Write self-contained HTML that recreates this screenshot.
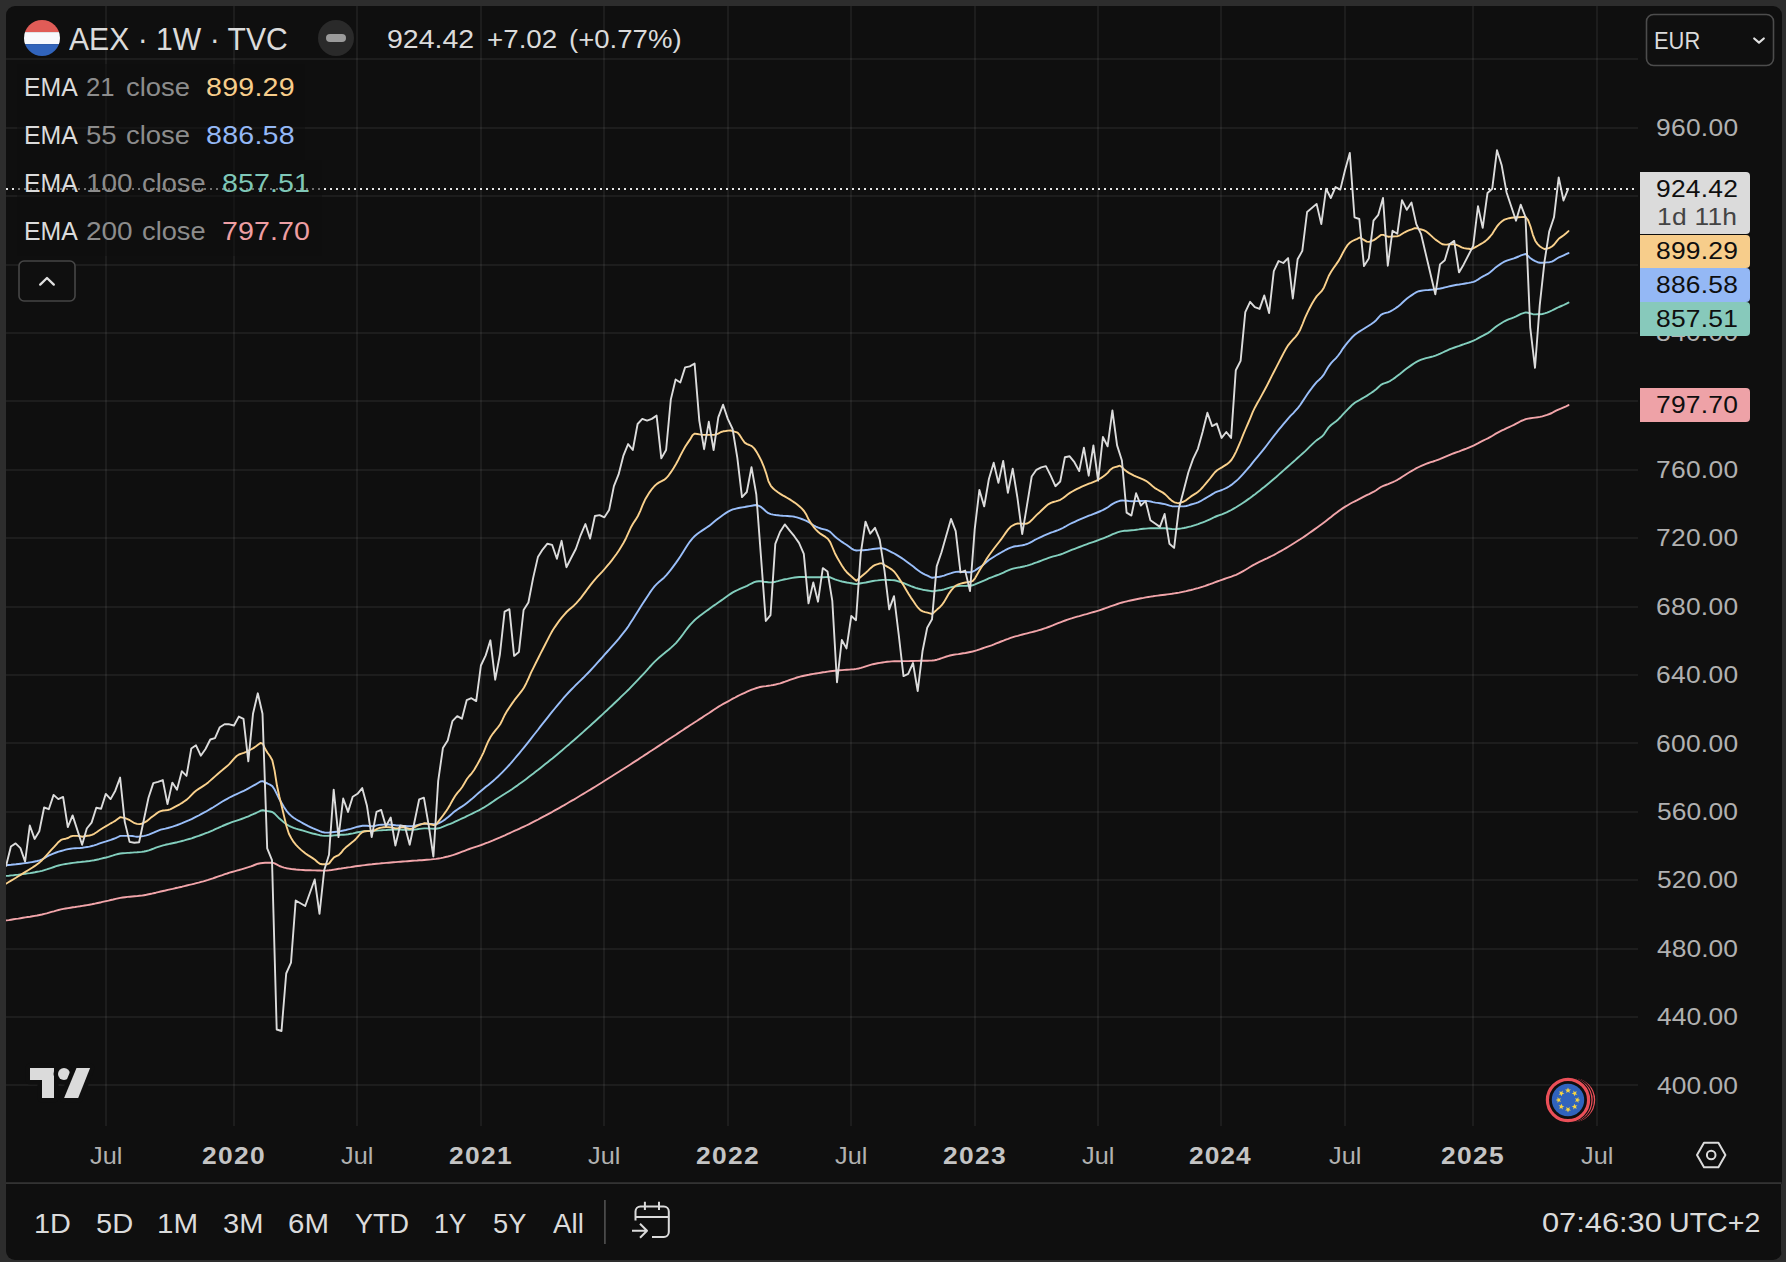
<!DOCTYPE html>
<html lang="en"><head><meta charset="utf-8"><title>AEX · 1W · TVC</title>
<style>
html,body{margin:0;padding:0;background:#2d2d2d;}
body{width:1786px;height:1262px;position:relative;overflow:hidden;font-family:"Liberation Sans", Arial, sans-serif;}
#panel{position:absolute;left:6px;top:6px;width:1776px;height:1254px;background:#0f0f0f;border-radius:9px;overflow:hidden;}
#wrap{position:absolute;left:-6px;top:-6px;width:1786px;height:1262px;}
.t{position:absolute;white-space:pre;line-height:1;display:block;transform-origin:0 0;}
.abs{position:absolute;}
svg{position:absolute;left:0;top:0;}
.box{position:absolute;left:1640px;width:110px;border-radius:0 4px 4px 0;}
</style></head><body>
<div id="panel"><div id="wrap">

<svg width="1786" height="1262" viewBox="0 0 1786 1262">
<g fill="rgba(255,255,255,0.058)"><rect x="105" y="6" width="2" height="1120"/><rect x="233" y="6" width="2" height="1120"/><rect x="356" y="6" width="2" height="1120"/><rect x="480" y="6" width="2" height="1120"/><rect x="603" y="6" width="2" height="1120"/><rect x="727" y="6" width="2" height="1120"/><rect x="850" y="6" width="2" height="1120"/><rect x="974" y="6" width="2" height="1120"/><rect x="1097" y="6" width="2" height="1120"/><rect x="1220" y="6" width="2" height="1120"/><rect x="1344" y="6" width="2" height="1120"/><rect x="1472" y="6" width="2" height="1120"/><rect x="1596" y="6" width="2" height="1120"/><rect x="6" y="58" width="1632" height="2"/><rect x="6" y="127" width="1632" height="2"/><rect x="6" y="195" width="1632" height="2"/><rect x="6" y="264" width="1632" height="2"/><rect x="6" y="332" width="1632" height="2"/><rect x="6" y="400" width="1632" height="2"/><rect x="6" y="469" width="1632" height="2"/><rect x="6" y="537" width="1632" height="2"/><rect x="6" y="606" width="1632" height="2"/><rect x="6" y="674" width="1632" height="2"/><rect x="6" y="742" width="1632" height="2"/><rect x="6" y="811" width="1632" height="2"/><rect x="6" y="879" width="1632" height="2"/><rect x="6" y="948" width="1632" height="2"/><rect x="6" y="1016" width="1632" height="2"/><rect x="6" y="1084" width="1632" height="2"/></g>
<clipPath id="cp"><rect x="6" y="6" width="1632" height="1120"/></clipPath>
<g clip-path="url(#cp)" fill="none" stroke-linejoin="round" stroke-linecap="round">
<path d="M6.4 920.4 L8.8 920.1 L11.1 919.7 L13.5 919.3 L15.9 918.9 L18.3 918.6 L20.6 918.2 L23.0 917.8 L25.4 917.4 L27.7 917.0 L30.1 916.7 L32.5 916.3 L34.9 915.9 L37.2 915.5 L39.6 915.0 L42.0 914.5 L44.4 913.9 L46.7 913.3 L49.1 912.6 L51.5 911.9 L53.9 911.3 L56.2 910.6 L58.6 910.0 L61.0 909.4 L63.4 908.9 L65.7 908.5 L68.1 908.1 L70.5 907.7 L72.9 907.3 L75.2 907.0 L77.6 906.6 L80.0 906.3 L82.4 905.9 L84.7 905.5 L87.1 905.1 L89.5 904.7 L91.8 904.3 L94.2 903.8 L96.6 903.2 L99.0 902.7 L101.3 902.2 L103.7 901.6 L106.1 901.1 L108.5 900.6 L110.8 900.0 L113.2 899.5 L115.6 898.9 L118.0 898.4 L120.3 897.9 L122.7 897.5 L125.1 897.2 L127.5 896.9 L129.8 896.7 L132.2 896.5 L134.6 896.3 L137.0 896.1 L139.3 895.8 L141.7 895.6 L144.1 895.2 L146.4 894.8 L148.8 894.3 L151.2 893.8 L153.6 893.2 L155.9 892.7 L158.3 892.1 L160.7 891.5 L163.1 891.0 L165.4 890.5 L167.8 889.9 L170.2 889.4 L172.6 888.9 L174.9 888.3 L177.3 887.8 L179.7 887.2 L182.1 886.7 L184.4 886.1 L186.8 885.5 L189.2 884.9 L191.6 884.4 L193.9 883.8 L196.3 883.2 L198.7 882.6 L201.1 881.9 L203.4 881.3 L205.8 880.6 L208.2 879.9 L210.5 879.1 L212.9 878.4 L215.3 877.5 L217.7 876.7 L220.0 875.9 L222.4 875.1 L224.8 874.2 L227.2 873.5 L229.5 872.7 L231.9 872.0 L234.3 871.3 L236.7 870.6 L239.0 870.0 L241.4 869.3 L243.8 868.6 L246.2 867.9 L248.5 867.2 L250.9 866.4 L253.3 865.5 L255.7 864.5 L258.0 863.7 L260.4 863.2 L262.8 863.0 L265.1 862.8 L267.5 862.8 L269.9 862.7 L272.3 862.7 L274.6 863.3 L277.0 864.6 L279.4 866.0 L281.8 866.9 L284.1 867.6 L286.5 868.2 L288.9 868.6 L291.3 869.0 L293.6 869.2 L296.0 869.5 L298.4 869.7 L300.8 869.9 L303.1 870.0 L305.5 870.2 L307.9 870.2 L310.3 870.3 L312.6 870.4 L315.0 870.4 L317.4 870.5 L319.8 870.5 L322.1 870.6 L324.5 870.6 L326.9 870.5 L329.2 870.3 L331.6 870.0 L334.0 869.6 L336.4 869.2 L338.7 868.8 L341.1 868.5 L343.5 868.1 L345.9 867.8 L348.2 867.4 L350.6 867.1 L353.0 866.7 L355.4 866.3 L357.7 866.0 L360.1 865.7 L362.5 865.4 L364.9 865.1 L367.2 864.8 L369.6 864.5 L372.0 864.3 L374.4 864.0 L376.7 863.8 L379.1 863.6 L381.5 863.3 L383.8 863.1 L386.2 862.9 L388.6 862.7 L391.0 862.5 L393.3 862.3 L395.7 862.1 L398.1 861.9 L400.5 861.7 L402.8 861.5 L405.2 861.4 L407.6 861.2 L410.0 861.0 L412.3 860.8 L414.7 860.6 L417.1 860.5 L419.5 860.3 L421.8 860.2 L424.2 860.0 L426.6 859.8 L429.0 859.6 L431.3 859.4 L433.7 859.1 L436.1 858.9 L438.5 858.5 L440.8 858.1 L443.2 857.6 L445.6 857.0 L447.9 856.5 L450.3 855.8 L452.7 855.1 L455.1 854.3 L457.4 853.5 L459.8 852.6 L462.2 851.7 L464.6 850.8 L466.9 849.9 L469.3 849.0 L471.7 848.2 L474.1 847.4 L476.4 846.6 L478.8 845.8 L481.2 845.0 L483.6 844.1 L485.9 843.2 L488.3 842.3 L490.7 841.3 L493.1 840.4 L495.4 839.4 L497.8 838.4 L500.2 837.4 L502.5 836.3 L504.9 835.3 L507.3 834.2 L509.7 833.1 L512.0 832.0 L514.4 830.9 L516.8 829.9 L519.2 828.8 L521.5 827.7 L523.9 826.6 L526.3 825.5 L528.7 824.4 L531.0 823.2 L533.4 821.9 L535.8 820.7 L538.2 819.5 L540.5 818.2 L542.9 816.9 L545.3 815.7 L547.7 814.4 L550.0 813.1 L552.4 811.8 L554.8 810.4 L557.2 809.1 L559.5 807.8 L561.9 806.4 L564.3 805.1 L566.6 803.7 L569.0 802.3 L571.4 800.9 L573.8 799.6 L576.1 798.2 L578.5 796.7 L580.9 795.3 L583.3 793.9 L585.6 792.5 L588.0 791.0 L590.4 789.6 L592.8 788.1 L595.1 786.7 L597.5 785.2 L599.9 783.7 L602.3 782.3 L604.6 780.8 L607.0 779.3 L609.4 777.8 L611.8 776.3 L614.1 774.8 L616.5 773.3 L618.9 771.8 L621.2 770.3 L623.6 768.8 L626.0 767.2 L628.4 765.7 L630.7 764.2 L633.1 762.6 L635.5 761.1 L637.9 759.6 L640.2 758.0 L642.6 756.5 L645.0 754.9 L647.4 753.4 L649.7 751.8 L652.1 750.3 L654.5 748.7 L656.9 747.1 L659.2 745.6 L661.6 744.0 L664.0 742.5 L666.4 740.9 L668.7 739.3 L671.1 737.8 L673.5 736.2 L675.9 734.7 L678.2 733.1 L680.6 731.5 L683.0 730.0 L685.3 728.4 L687.7 726.9 L690.1 725.3 L692.5 723.8 L694.8 722.2 L697.2 720.7 L699.6 719.1 L702.0 717.6 L704.3 716.0 L706.7 714.5 L709.1 713.0 L711.5 711.4 L713.8 709.8 L716.2 708.2 L718.6 706.6 L721.0 705.2 L723.3 703.9 L725.7 702.6 L728.1 701.3 L730.5 700.0 L732.8 698.7 L735.2 697.5 L737.6 696.2 L739.9 695.0 L742.3 693.9 L744.7 692.8 L747.1 691.7 L749.4 690.7 L751.8 689.7 L754.2 688.8 L756.6 688.0 L758.9 687.3 L761.3 686.8 L763.7 686.4 L766.1 686.1 L768.4 685.7 L770.8 685.4 L773.2 685.0 L775.6 684.5 L777.9 683.9 L780.3 683.3 L782.7 682.5 L785.1 681.7 L787.4 680.8 L789.8 679.9 L792.2 679.1 L794.6 678.3 L796.9 677.5 L799.3 676.8 L801.7 676.2 L804.0 675.7 L806.4 675.2 L808.8 674.8 L811.2 674.3 L813.5 673.9 L815.9 673.5 L818.3 673.1 L820.7 672.7 L823.0 672.3 L825.4 672.0 L827.8 671.6 L830.2 671.3 L832.5 671.0 L834.9 670.7 L837.3 670.4 L839.7 670.2 L842.0 670.1 L844.4 669.9 L846.8 669.7 L849.2 669.6 L851.5 669.4 L853.9 669.2 L856.3 668.9 L858.6 668.5 L861.0 667.9 L863.4 667.2 L865.8 666.4 L868.1 665.6 L870.5 664.9 L872.9 664.2 L875.3 663.7 L877.6 663.3 L880.0 662.9 L882.4 662.5 L884.8 662.1 L887.1 661.8 L889.5 661.6 L891.9 661.4 L894.3 661.3 L896.6 661.2 L899.0 661.2 L901.4 661.2 L903.8 661.1 L906.1 661.1 L908.5 661.1 L910.9 661.0 L913.3 661.0 L915.6 660.9 L918.0 660.9 L920.4 660.8 L922.7 660.8 L925.1 660.7 L927.5 660.7 L929.9 660.6 L932.2 660.5 L934.6 660.2 L937.0 659.7 L939.4 659.0 L941.7 658.2 L944.1 657.3 L946.5 656.5 L948.9 655.8 L951.2 655.3 L953.6 654.8 L956.0 654.4 L958.4 654.1 L960.7 653.7 L963.1 653.3 L965.5 653.0 L967.9 652.5 L970.2 652.0 L972.6 651.5 L975.0 650.8 L977.3 650.1 L979.7 649.3 L982.1 648.5 L984.5 647.7 L986.8 646.9 L989.2 646.1 L991.6 645.3 L994.0 644.4 L996.3 643.4 L998.7 642.5 L1001.1 641.5 L1003.5 640.6 L1005.8 639.6 L1008.2 638.8 L1010.6 637.9 L1013.0 637.1 L1015.3 636.4 L1017.7 635.8 L1020.1 635.1 L1022.5 634.5 L1024.8 633.9 L1027.2 633.3 L1029.6 632.7 L1032.0 632.1 L1034.3 631.5 L1036.7 630.9 L1039.1 630.2 L1041.4 629.5 L1043.8 628.7 L1046.2 627.9 L1048.6 627.0 L1050.9 626.1 L1053.3 625.2 L1055.7 624.2 L1058.1 623.2 L1060.4 622.3 L1062.8 621.4 L1065.2 620.5 L1067.6 619.7 L1069.9 618.9 L1072.3 618.2 L1074.7 617.4 L1077.1 616.7 L1079.4 616.1 L1081.8 615.4 L1084.2 614.7 L1086.6 614.1 L1088.9 613.4 L1091.3 612.7 L1093.7 612.0 L1096.0 611.3 L1098.4 610.6 L1100.8 609.8 L1103.2 609.0 L1105.5 608.2 L1107.9 607.3 L1110.3 606.4 L1112.7 605.6 L1115.0 604.8 L1117.4 604.0 L1119.8 603.2 L1122.2 602.5 L1124.5 601.9 L1126.9 601.3 L1129.3 600.7 L1131.7 600.2 L1134.0 599.7 L1136.4 599.2 L1138.8 598.7 L1141.2 598.3 L1143.5 597.9 L1145.9 597.4 L1148.3 597.0 L1150.7 596.6 L1153.0 596.3 L1155.4 595.9 L1157.8 595.6 L1160.1 595.3 L1162.5 595.0 L1164.9 594.7 L1167.3 594.4 L1169.6 594.1 L1172.0 593.8 L1174.4 593.4 L1176.8 593.0 L1179.1 592.6 L1181.5 592.1 L1183.9 591.6 L1186.3 591.1 L1188.6 590.5 L1191.0 590.0 L1193.4 589.4 L1195.8 588.7 L1198.1 588.1 L1200.5 587.4 L1202.9 586.7 L1205.3 585.9 L1207.6 585.0 L1210.0 584.2 L1212.4 583.3 L1214.7 582.4 L1217.1 581.5 L1219.5 580.7 L1221.9 579.8 L1224.2 579.0 L1226.6 578.2 L1229.0 577.4 L1231.4 576.6 L1233.7 575.7 L1236.1 574.8 L1238.5 573.7 L1240.9 572.4 L1243.2 571.1 L1245.6 569.7 L1248.0 568.3 L1250.4 566.8 L1252.7 565.4 L1255.1 564.2 L1257.5 562.9 L1259.9 561.7 L1262.2 560.6 L1264.6 559.4 L1267.0 558.3 L1269.4 557.1 L1271.7 556.0 L1274.1 554.8 L1276.5 553.5 L1278.8 552.2 L1281.2 550.9 L1283.6 549.5 L1286.0 548.1 L1288.3 546.7 L1290.7 545.3 L1293.1 543.8 L1295.5 542.3 L1297.8 540.8 L1300.2 539.3 L1302.6 537.7 L1305.0 536.1 L1307.3 534.5 L1309.7 532.8 L1312.1 531.1 L1314.5 529.4 L1316.8 527.7 L1319.2 526.0 L1321.6 524.3 L1324.0 522.5 L1326.3 520.7 L1328.7 518.8 L1331.1 517.0 L1333.4 515.1 L1335.8 513.2 L1338.2 511.4 L1340.6 509.7 L1342.9 508.1 L1345.3 506.6 L1347.7 505.2 L1350.1 503.8 L1352.4 502.5 L1354.8 501.3 L1357.2 500.1 L1359.6 498.8 L1361.9 497.6 L1364.3 496.4 L1366.7 495.2 L1369.1 494.1 L1371.4 492.9 L1373.8 491.7 L1376.2 490.2 L1378.6 488.5 L1380.9 487.0 L1383.3 485.9 L1385.7 485.0 L1388.1 484.1 L1390.4 483.1 L1392.8 482.1 L1395.2 481.0 L1397.5 479.8 L1399.9 478.4 L1402.3 476.8 L1404.7 475.2 L1407.0 473.7 L1409.4 472.3 L1411.8 470.9 L1414.2 469.5 L1416.5 468.2 L1418.9 467.0 L1421.3 465.9 L1423.7 464.9 L1426.0 463.9 L1428.4 463.0 L1430.8 462.2 L1433.2 461.5 L1435.5 460.7 L1437.9 459.8 L1440.3 458.9 L1442.7 457.9 L1445.0 456.9 L1447.4 455.9 L1449.8 454.9 L1452.1 453.9 L1454.5 453.0 L1456.9 452.1 L1459.3 451.3 L1461.6 450.4 L1464.0 449.5 L1466.4 448.6 L1468.8 447.6 L1471.1 446.6 L1473.5 445.6 L1475.9 444.4 L1478.3 443.2 L1480.6 441.9 L1483.0 440.7 L1485.4 439.5 L1487.8 438.4 L1490.1 437.1 L1492.5 435.7 L1494.9 434.2 L1497.3 432.9 L1499.6 431.6 L1502.0 430.4 L1504.4 429.3 L1506.8 428.1 L1509.1 427.1 L1511.5 426.0 L1513.9 424.9 L1516.2 423.7 L1518.6 422.4 L1521.0 421.0 L1523.4 420.1 L1525.7 419.2 L1528.1 418.6 L1530.5 418.2 L1532.9 417.9 L1535.2 417.6 L1537.6 417.3 L1540.0 416.9 L1542.4 416.3 L1544.7 415.6 L1547.1 414.9 L1549.5 414.0 L1551.9 413.0 L1554.2 411.7 L1556.6 410.4 L1559.0 409.3 L1561.4 408.4 L1563.7 407.4 L1566.1 406.3 L1568.5 405.1 L1568.5 405.1" stroke="#f2a5aa" stroke-width="1.9"/>
<path d="M6.4 875.9 L8.8 875.7 L11.1 875.4 L13.5 875.2 L15.9 874.9 L18.3 874.7 L20.6 874.4 L23.0 874.1 L25.4 873.8 L27.7 873.4 L30.1 873.1 L32.5 872.7 L34.9 872.3 L37.2 871.8 L39.6 871.4 L42.0 870.8 L44.4 870.1 L46.7 869.4 L49.1 868.6 L51.5 867.8 L53.9 867.0 L56.2 866.2 L58.6 865.5 L61.0 864.9 L63.4 864.4 L65.7 864.0 L68.1 863.6 L70.5 863.2 L72.9 862.9 L75.2 862.6 L77.6 862.3 L80.0 862.1 L82.4 861.8 L84.7 861.6 L87.1 861.3 L89.5 861.0 L91.8 860.6 L94.2 860.2 L96.6 859.7 L99.0 859.2 L101.3 858.6 L103.7 858.0 L106.1 857.5 L108.5 856.9 L110.8 856.1 L113.2 855.4 L115.6 854.6 L118.0 854.0 L120.3 853.5 L122.7 853.2 L125.1 853.1 L127.5 852.9 L129.8 852.8 L132.2 852.6 L134.6 852.4 L137.0 852.3 L139.3 852.1 L141.7 851.9 L144.1 851.5 L146.4 851.0 L148.8 850.3 L151.2 849.5 L153.6 848.6 L155.9 847.7 L158.3 846.9 L160.7 846.1 L163.1 845.4 L165.4 844.8 L167.8 844.3 L170.2 843.7 L172.6 843.2 L174.9 842.7 L177.3 842.2 L179.7 841.6 L182.1 841.0 L184.4 840.4 L186.8 839.7 L189.2 839.0 L191.6 838.3 L193.9 837.5 L196.3 836.7 L198.7 835.9 L201.1 835.0 L203.4 834.1 L205.8 833.2 L208.2 832.3 L210.5 831.3 L212.9 830.3 L215.3 829.2 L217.7 828.2 L220.0 827.1 L222.4 826.0 L224.8 825.0 L227.2 824.0 L229.5 823.1 L231.9 822.2 L234.3 821.4 L236.7 820.6 L239.0 819.8 L241.4 819.0 L243.8 818.1 L246.2 817.2 L248.5 816.3 L250.9 815.2 L253.3 814.2 L255.7 813.1 L258.0 812.0 L260.4 810.8 L262.8 810.3 L265.1 810.8 L267.5 811.1 L269.9 811.5 L272.3 812.0 L274.6 813.6 L277.0 816.1 L279.4 818.6 L281.8 820.6 L284.1 822.6 L286.5 824.4 L288.9 825.8 L291.3 826.9 L293.6 827.8 L296.0 828.6 L298.4 829.3 L300.8 830.0 L303.1 830.7 L305.5 831.4 L307.9 832.1 L310.3 832.8 L312.6 833.5 L315.0 834.0 L317.4 834.6 L319.8 835.2 L322.1 835.6 L324.5 835.9 L326.9 835.9 L329.2 835.8 L331.6 835.7 L334.0 835.4 L336.4 835.2 L338.7 835.0 L341.1 834.8 L343.5 834.7 L345.9 834.5 L348.2 834.2 L350.6 833.8 L353.0 833.4 L355.4 832.8 L357.7 832.3 L360.1 831.9 L362.5 831.5 L364.9 831.2 L367.2 831.0 L369.6 830.9 L372.0 830.8 L374.4 830.7 L376.7 830.6 L379.1 830.4 L381.5 830.3 L383.8 830.1 L386.2 830.0 L388.6 829.8 L391.0 829.7 L393.3 829.6 L395.7 829.6 L398.1 829.6 L400.5 829.6 L402.8 829.7 L405.2 829.8 L407.6 829.9 L410.0 829.9 L412.3 829.8 L414.7 829.6 L417.1 829.3 L419.5 828.9 L421.8 828.6 L424.2 828.4 L426.6 828.4 L429.0 828.5 L431.3 828.6 L433.7 828.7 L436.1 828.7 L438.5 828.3 L440.8 827.6 L443.2 826.7 L445.6 825.7 L447.9 824.7 L450.3 823.8 L452.7 822.8 L455.1 821.7 L457.4 820.7 L459.8 819.5 L462.2 818.4 L464.6 817.3 L466.9 816.1 L469.3 815.0 L471.7 813.9 L474.1 812.7 L476.4 811.5 L478.8 810.3 L481.2 809.0 L483.6 807.7 L485.9 806.2 L488.3 804.7 L490.7 803.1 L493.1 801.5 L495.4 799.9 L497.8 798.3 L500.2 796.7 L502.5 795.2 L504.9 793.7 L507.3 792.2 L509.7 790.7 L512.0 789.2 L514.4 787.5 L516.8 785.9 L519.2 784.1 L521.5 782.4 L523.9 780.7 L526.3 778.9 L528.7 777.1 L531.0 775.3 L533.4 773.5 L535.8 771.6 L538.2 769.8 L540.5 767.9 L542.9 766.0 L545.3 764.1 L547.7 762.2 L550.0 760.3 L552.4 758.4 L554.8 756.4 L557.2 754.4 L559.5 752.5 L561.9 750.5 L564.3 748.4 L566.6 746.4 L569.0 744.4 L571.4 742.3 L573.8 740.3 L576.1 738.2 L578.5 736.1 L580.9 734.0 L583.3 731.9 L585.6 729.8 L588.0 727.6 L590.4 725.5 L592.8 723.3 L595.1 721.2 L597.5 719.0 L599.9 716.8 L602.3 714.6 L604.6 712.4 L607.0 710.2 L609.4 707.9 L611.8 705.7 L614.1 703.5 L616.5 701.2 L618.9 699.0 L621.2 696.7 L623.6 694.4 L626.0 692.1 L628.4 689.8 L630.7 687.4 L633.1 684.9 L635.5 682.4 L637.9 679.9 L640.2 677.4 L642.6 674.8 L645.0 672.3 L647.4 669.7 L649.7 667.0 L652.1 664.4 L654.5 661.9 L656.9 659.6 L659.2 657.5 L661.6 655.5 L664.0 653.6 L666.4 651.6 L668.7 649.7 L671.1 647.6 L673.5 645.4 L675.9 643.1 L678.2 640.4 L680.6 637.4 L683.0 634.2 L685.3 631.0 L687.7 627.9 L690.1 624.9 L692.5 622.3 L694.8 620.0 L697.2 617.9 L699.6 616.0 L702.0 614.2 L704.3 612.5 L706.7 610.8 L709.1 609.1 L711.5 607.3 L713.8 605.6 L716.2 604.0 L718.6 602.3 L721.0 600.6 L723.3 599.0 L725.7 597.2 L728.1 595.5 L730.5 593.9 L732.8 592.4 L735.2 591.2 L737.6 590.0 L739.9 588.9 L742.3 587.9 L744.7 586.9 L747.1 585.8 L749.4 584.5 L751.8 583.3 L754.2 582.2 L756.6 581.5 L758.9 581.2 L761.3 581.3 L763.7 581.7 L766.1 582.0 L768.4 582.3 L770.8 582.4 L773.2 582.2 L775.6 581.7 L777.9 581.1 L780.3 580.4 L782.7 579.8 L785.1 579.3 L787.4 578.9 L789.8 578.4 L792.2 577.9 L794.6 577.5 L796.9 577.2 L799.3 577.0 L801.7 577.0 L804.0 577.0 L806.4 577.1 L808.8 577.2 L811.2 577.2 L813.5 577.3 L815.9 577.3 L818.3 577.3 L820.7 577.3 L823.0 577.2 L825.4 577.1 L827.8 577.0 L830.2 577.3 L832.5 578.3 L834.9 579.4 L837.3 580.2 L839.7 580.9 L842.0 581.5 L844.4 582.0 L846.8 582.5 L849.2 582.9 L851.5 583.3 L853.9 583.7 L856.3 584.1 L858.6 583.7 L861.0 583.3 L863.4 582.9 L865.8 582.5 L868.1 582.0 L870.5 581.5 L872.9 581.0 L875.3 580.6 L877.6 580.4 L880.0 580.1 L882.4 579.9 L884.8 579.9 L887.1 579.9 L889.5 580.0 L891.9 580.1 L894.3 580.3 L896.6 580.8 L899.0 581.5 L901.4 582.3 L903.8 583.2 L906.1 584.2 L908.5 585.2 L910.9 586.2 L913.3 587.0 L915.6 587.8 L918.0 588.5 L920.4 589.1 L922.7 589.7 L925.1 590.1 L927.5 590.5 L929.9 590.9 L932.2 591.3 L934.6 591.0 L937.0 590.6 L939.4 590.3 L941.7 590.0 L944.1 589.4 L946.5 588.6 L948.9 587.8 L951.2 587.2 L953.6 586.6 L956.0 586.2 L958.4 586.0 L960.7 585.9 L963.1 585.9 L965.5 585.9 L967.9 585.8 L970.2 585.7 L972.6 585.3 L975.0 584.4 L977.3 583.4 L979.7 582.4 L982.1 581.4 L984.5 580.4 L986.8 579.3 L989.2 578.2 L991.6 577.3 L994.0 576.4 L996.3 575.5 L998.7 574.6 L1001.1 573.6 L1003.5 572.6 L1005.8 571.4 L1008.2 570.4 L1010.6 569.4 L1013.0 568.7 L1015.3 568.1 L1017.7 567.6 L1020.1 567.2 L1022.5 566.7 L1024.8 566.2 L1027.2 565.6 L1029.6 564.9 L1032.0 564.1 L1034.3 563.2 L1036.7 562.4 L1039.1 561.5 L1041.4 560.6 L1043.8 559.7 L1046.2 558.8 L1048.6 557.9 L1050.9 557.1 L1053.3 556.4 L1055.7 555.8 L1058.1 555.2 L1060.4 554.5 L1062.8 553.6 L1065.2 552.6 L1067.6 551.6 L1069.9 550.7 L1072.3 549.7 L1074.7 548.8 L1077.1 547.9 L1079.4 547.0 L1081.8 546.1 L1084.2 545.2 L1086.6 544.3 L1088.9 543.4 L1091.3 542.6 L1093.7 541.8 L1096.0 541.0 L1098.4 540.1 L1100.8 539.2 L1103.2 538.3 L1105.5 537.4 L1107.9 536.4 L1110.3 535.3 L1112.7 534.2 L1115.0 533.3 L1117.4 532.3 L1119.8 531.6 L1122.2 531.1 L1124.5 530.8 L1126.9 530.7 L1129.3 530.5 L1131.7 530.3 L1134.0 530.1 L1136.4 529.7 L1138.8 529.4 L1141.2 529.0 L1143.5 528.7 L1145.9 528.6 L1148.3 528.4 L1150.7 528.3 L1153.0 528.3 L1155.4 528.2 L1157.8 528.2 L1160.1 528.2 L1162.5 528.2 L1164.9 528.3 L1167.3 528.5 L1169.6 528.7 L1172.0 529.0 L1174.4 529.1 L1176.8 529.0 L1179.1 528.7 L1181.5 528.4 L1183.9 528.0 L1186.3 527.5 L1188.6 526.9 L1191.0 526.3 L1193.4 525.6 L1195.8 524.9 L1198.1 524.1 L1200.5 523.2 L1202.9 522.3 L1205.3 521.4 L1207.6 520.4 L1210.0 519.3 L1212.4 518.2 L1214.7 517.0 L1217.1 516.0 L1219.5 515.2 L1221.9 514.4 L1224.2 513.4 L1226.6 512.4 L1229.0 511.2 L1231.4 510.0 L1233.7 508.6 L1236.1 507.2 L1238.5 505.7 L1240.9 504.2 L1243.2 502.7 L1245.6 501.1 L1248.0 499.4 L1250.4 497.7 L1252.7 495.9 L1255.1 494.2 L1257.5 492.3 L1259.9 490.5 L1262.2 488.6 L1264.6 486.7 L1267.0 484.7 L1269.4 482.7 L1271.7 480.7 L1274.1 478.7 L1276.5 476.7 L1278.8 474.6 L1281.2 472.5 L1283.6 470.4 L1286.0 468.3 L1288.3 466.2 L1290.7 464.1 L1293.1 462.0 L1295.5 459.9 L1297.8 457.7 L1300.2 455.6 L1302.6 453.5 L1305.0 451.4 L1307.3 449.1 L1309.7 446.7 L1312.1 444.4 L1314.5 442.1 L1316.8 440.1 L1319.2 438.5 L1321.6 436.8 L1324.0 434.3 L1326.3 430.8 L1328.7 427.4 L1331.1 425.0 L1333.4 423.2 L1335.8 421.4 L1338.2 419.4 L1340.6 417.0 L1342.9 414.3 L1345.3 411.8 L1347.7 409.4 L1350.1 407.0 L1352.4 404.7 L1354.8 402.8 L1357.2 401.3 L1359.6 400.0 L1361.9 398.7 L1364.3 397.3 L1366.7 395.9 L1369.1 394.3 L1371.4 392.8 L1373.8 391.1 L1376.2 389.2 L1378.6 387.0 L1380.9 384.9 L1383.3 383.6 L1385.7 382.8 L1388.1 382.0 L1390.4 380.8 L1392.8 379.3 L1395.2 377.6 L1397.5 375.8 L1399.9 374.0 L1402.3 372.1 L1404.7 370.1 L1407.0 368.3 L1409.4 366.6 L1411.8 364.9 L1414.2 363.3 L1416.5 361.9 L1418.9 360.7 L1421.3 359.7 L1423.7 358.9 L1426.0 358.2 L1428.4 357.6 L1430.8 357.0 L1433.2 356.4 L1435.5 355.6 L1437.9 354.7 L1440.3 353.7 L1442.7 352.5 L1445.0 351.4 L1447.4 350.3 L1449.8 349.2 L1452.1 348.3 L1454.5 347.5 L1456.9 346.7 L1459.3 345.9 L1461.6 345.0 L1464.0 344.2 L1466.4 343.3 L1468.8 342.5 L1471.1 341.6 L1473.5 340.6 L1475.9 339.5 L1478.3 338.2 L1480.6 336.9 L1483.0 335.7 L1485.4 334.4 L1487.8 333.1 L1490.1 331.5 L1492.5 329.5 L1494.9 327.6 L1497.3 325.7 L1499.6 324.2 L1502.0 322.7 L1504.4 321.3 L1506.8 320.2 L1509.1 319.2 L1511.5 318.3 L1513.9 317.4 L1516.2 316.4 L1518.6 315.1 L1521.0 313.8 L1523.4 313.1 L1525.7 312.4 L1528.1 312.8 L1530.5 313.5 L1532.9 314.2 L1535.2 314.4 L1537.6 314.3 L1540.0 314.2 L1542.4 314.0 L1544.7 313.4 L1547.1 312.6 L1549.5 311.6 L1551.9 310.5 L1554.2 309.3 L1556.6 308.1 L1559.0 307.0 L1561.4 306.0 L1563.7 305.0 L1566.1 303.8 L1568.5 302.6 L1568.5 302.6" stroke="#83cfbe" stroke-width="1.9"/>
<path d="M6.4 865.3 L8.8 865.0 L11.1 864.8 L13.5 864.5 L15.9 864.3 L18.3 864.0 L20.6 863.7 L23.0 863.4 L25.4 863.1 L27.7 862.8 L30.1 862.4 L32.5 862.0 L34.9 861.5 L37.2 861.0 L39.6 860.3 L42.0 859.4 L44.4 858.1 L46.7 856.7 L49.1 855.4 L51.5 854.4 L53.9 853.4 L56.2 852.5 L58.6 851.7 L61.0 851.0 L63.4 850.3 L65.7 849.7 L68.1 849.1 L70.5 848.7 L72.9 848.4 L75.2 848.2 L77.6 848.1 L80.0 848.0 L82.4 847.8 L84.7 847.4 L87.1 847.0 L89.5 846.6 L91.8 846.0 L94.2 845.4 L96.6 844.6 L99.0 843.7 L101.3 842.9 L103.7 842.1 L106.1 841.4 L108.5 840.6 L110.8 839.9 L113.2 839.0 L115.6 838.2 L118.0 837.0 L120.3 835.9 L122.7 835.9 L125.1 835.9 L127.5 835.9 L129.8 835.9 L132.2 836.0 L134.6 836.4 L137.0 836.7 L139.3 836.6 L141.7 836.3 L144.1 835.9 L146.4 835.4 L148.8 834.7 L151.2 833.7 L153.6 832.7 L155.9 831.6 L158.3 830.6 L160.7 829.7 L163.1 829.1 L165.4 828.6 L167.8 828.0 L170.2 827.3 L172.6 826.6 L174.9 825.8 L177.3 825.0 L179.7 824.1 L182.1 823.2 L184.4 822.2 L186.8 821.2 L189.2 820.2 L191.6 819.1 L193.9 817.9 L196.3 816.7 L198.7 815.5 L201.1 814.2 L203.4 812.9 L205.8 811.7 L208.2 810.3 L210.5 808.9 L212.9 807.5 L215.3 806.0 L217.7 804.5 L220.0 803.0 L222.4 801.5 L224.8 800.1 L227.2 798.8 L229.5 797.5 L231.9 796.3 L234.3 795.2 L236.7 794.1 L239.0 793.0 L241.4 791.9 L243.8 790.8 L246.2 789.6 L248.5 788.3 L250.9 787.0 L253.3 785.7 L255.7 784.4 L258.0 783.0 L260.4 781.5 L262.8 781.1 L265.1 782.5 L267.5 783.5 L269.9 784.6 L272.3 786.1 L274.6 789.5 L277.0 794.3 L279.4 799.3 L281.8 803.3 L284.1 807.2 L286.5 810.8 L288.9 813.7 L291.3 815.9 L293.6 817.7 L296.0 819.3 L298.4 820.7 L300.8 822.0 L303.1 823.3 L305.5 824.6 L307.9 825.9 L310.3 827.1 L312.6 828.2 L315.0 829.2 L317.4 830.2 L319.8 831.2 L322.1 832.0 L324.5 832.5 L326.9 832.6 L329.2 832.5 L331.6 832.3 L334.0 832.0 L336.4 831.7 L338.7 831.4 L341.1 831.0 L343.5 830.5 L345.9 830.0 L348.2 829.4 L350.6 828.8 L353.0 828.1 L355.4 827.4 L357.7 826.7 L360.1 826.2 L362.5 825.8 L364.9 825.7 L367.2 825.8 L369.6 826.1 L372.0 826.2 L374.4 826.0 L376.7 825.4 L379.1 824.9 L381.5 824.7 L383.8 824.6 L386.2 824.6 L388.6 824.5 L391.0 824.7 L393.3 825.0 L395.7 825.3 L398.1 825.5 L400.5 825.7 L402.8 825.9 L405.2 826.0 L407.6 826.2 L410.0 826.2 L412.3 826.1 L414.7 825.7 L417.1 825.1 L419.5 824.5 L421.8 824.0 L424.2 823.7 L426.6 823.7 L429.0 823.9 L431.3 824.0 L433.7 824.2 L436.1 824.1 L438.5 823.4 L440.8 822.2 L443.2 820.7 L445.6 819.1 L447.9 817.3 L450.3 815.2 L452.7 813.1 L455.1 811.1 L457.4 809.5 L459.8 807.9 L462.2 806.4 L464.6 804.8 L466.9 803.0 L469.3 801.1 L471.7 799.1 L474.1 797.0 L476.4 794.9 L478.8 792.8 L481.2 790.8 L483.6 788.8 L485.9 786.8 L488.3 784.9 L490.7 782.9 L493.1 780.9 L495.4 778.9 L497.8 776.7 L500.2 774.4 L502.5 772.1 L504.9 769.6 L507.3 767.1 L509.7 764.5 L512.0 761.8 L514.4 759.0 L516.8 756.2 L519.2 753.4 L521.5 750.5 L523.9 747.6 L526.3 744.6 L528.7 741.6 L531.0 738.6 L533.4 735.5 L535.8 732.5 L538.2 729.5 L540.5 726.4 L542.9 723.4 L545.3 720.3 L547.7 717.3 L550.0 714.3 L552.4 711.4 L554.8 708.5 L557.2 705.6 L559.5 702.8 L561.9 700.0 L564.3 697.2 L566.6 694.6 L569.0 692.0 L571.4 689.5 L573.8 687.1 L576.1 684.7 L578.5 682.4 L580.9 680.1 L583.3 677.8 L585.6 675.4 L588.0 673.0 L590.4 670.5 L592.8 667.9 L595.1 665.3 L597.5 662.7 L599.9 660.0 L602.3 657.4 L604.6 654.7 L607.0 652.0 L609.4 649.4 L611.8 646.7 L614.1 644.1 L616.5 641.4 L618.9 638.6 L621.2 635.7 L623.6 632.7 L626.0 629.6 L628.4 626.2 L630.7 622.6 L633.1 618.9 L635.5 615.1 L637.9 611.2 L640.2 607.4 L642.6 603.7 L645.0 600.1 L647.4 596.5 L649.7 592.9 L652.1 589.5 L654.5 586.4 L656.9 583.9 L659.2 581.8 L661.6 579.8 L664.0 577.7 L666.4 575.2 L668.7 572.4 L671.1 569.3 L673.5 566.1 L675.9 562.9 L678.2 559.6 L680.6 556.0 L683.0 552.2 L685.3 548.4 L687.7 544.7 L690.1 541.3 L692.5 538.3 L694.8 536.0 L697.2 534.0 L699.6 532.2 L702.0 530.6 L704.3 529.1 L706.7 527.5 L709.1 525.9 L711.5 524.0 L713.8 522.1 L716.2 520.1 L718.6 518.2 L721.0 516.4 L723.3 514.7 L725.7 513.1 L728.1 511.6 L730.5 510.3 L732.8 509.4 L735.2 508.8 L737.6 508.2 L739.9 507.8 L742.3 507.4 L744.7 507.0 L747.1 506.5 L749.4 506.1 L751.8 505.7 L754.2 505.3 L756.6 505.0 L758.9 505.9 L761.3 507.2 L763.7 509.3 L766.1 511.5 L768.4 513.2 L770.8 514.1 L773.2 514.6 L775.6 515.0 L777.9 515.3 L780.3 515.6 L782.7 515.8 L785.1 515.9 L787.4 516.0 L789.8 516.2 L792.2 516.4 L794.6 516.8 L796.9 517.4 L799.3 518.2 L801.7 519.0 L804.0 519.9 L806.4 520.9 L808.8 522.3 L811.2 523.8 L813.5 525.3 L815.9 526.6 L818.3 527.7 L820.7 528.5 L823.0 529.1 L825.4 529.7 L827.8 530.5 L830.2 531.9 L832.5 534.1 L834.9 536.5 L837.3 538.5 L839.7 540.2 L842.0 541.9 L844.4 543.5 L846.8 545.0 L849.2 546.8 L851.5 548.6 L853.9 549.9 L856.3 550.5 L858.6 550.4 L861.0 550.3 L863.4 550.2 L865.8 550.0 L868.1 549.8 L870.5 549.4 L872.9 549.0 L875.3 548.7 L877.6 548.5 L880.0 548.3 L882.4 548.3 L884.8 548.9 L887.1 549.9 L889.5 551.1 L891.9 552.3 L894.3 553.5 L896.6 554.9 L899.0 556.4 L901.4 557.9 L903.8 559.5 L906.1 561.2 L908.5 563.0 L910.9 564.8 L913.3 566.5 L915.6 568.4 L918.0 570.3 L920.4 572.0 L922.7 573.4 L925.1 574.6 L927.5 575.6 L929.9 576.8 L932.2 577.8 L934.6 577.4 L937.0 577.0 L939.4 576.7 L941.7 576.2 L944.1 575.6 L946.5 574.7 L948.9 573.9 L951.2 573.2 L953.6 572.4 L956.0 571.9 L958.4 571.8 L960.7 571.9 L963.1 572.0 L965.5 572.1 L967.9 572.2 L970.2 572.3 L972.6 571.7 L975.0 570.5 L977.3 568.9 L979.7 567.3 L982.1 565.7 L984.5 563.7 L986.8 561.7 L989.2 559.8 L991.6 558.2 L994.0 556.7 L996.3 555.3 L998.7 553.9 L1001.1 552.5 L1003.5 551.2 L1005.8 549.8 L1008.2 548.6 L1010.6 547.6 L1013.0 546.8 L1015.3 546.3 L1017.7 546.0 L1020.1 545.6 L1022.5 545.2 L1024.8 544.7 L1027.2 544.0 L1029.6 542.9 L1032.0 541.6 L1034.3 540.2 L1036.7 539.0 L1039.1 537.9 L1041.4 536.8 L1043.8 535.7 L1046.2 534.7 L1048.6 533.7 L1050.9 532.7 L1053.3 531.9 L1055.7 531.0 L1058.1 530.2 L1060.4 529.2 L1062.8 528.0 L1065.2 526.7 L1067.6 525.3 L1069.9 524.0 L1072.3 522.9 L1074.7 521.8 L1077.1 520.7 L1079.4 519.7 L1081.8 518.6 L1084.2 517.6 L1086.6 516.6 L1088.9 515.6 L1091.3 514.8 L1093.7 513.9 L1096.0 513.0 L1098.4 512.0 L1100.8 511.0 L1103.2 509.9 L1105.5 508.6 L1107.9 507.2 L1110.3 505.4 L1112.7 503.9 L1115.0 502.7 L1117.4 501.6 L1119.8 500.8 L1122.2 500.5 L1124.5 500.6 L1126.9 500.8 L1129.3 501.1 L1131.7 501.2 L1134.0 501.2 L1136.4 501.1 L1138.8 501.0 L1141.2 501.0 L1143.5 500.9 L1145.9 500.9 L1148.3 501.1 L1150.7 501.5 L1153.0 502.1 L1155.4 502.6 L1157.8 502.9 L1160.1 503.3 L1162.5 503.7 L1164.9 504.1 L1167.3 504.8 L1169.6 505.6 L1172.0 506.2 L1174.4 506.4 L1176.8 506.4 L1179.1 506.4 L1181.5 506.4 L1183.9 506.4 L1186.3 506.0 L1188.6 505.3 L1191.0 504.5 L1193.4 503.8 L1195.8 503.1 L1198.1 502.3 L1200.5 501.2 L1202.9 499.8 L1205.3 498.4 L1207.6 497.0 L1210.0 495.6 L1212.4 494.1 L1214.7 492.7 L1217.1 491.6 L1219.5 490.8 L1221.9 490.0 L1224.2 489.0 L1226.6 487.9 L1229.0 486.5 L1231.4 484.9 L1233.7 483.1 L1236.1 481.1 L1238.5 478.9 L1240.9 476.4 L1243.2 473.9 L1245.6 471.2 L1248.0 468.4 L1250.4 465.6 L1252.7 462.7 L1255.1 459.7 L1257.5 456.8 L1259.9 453.9 L1262.2 451.1 L1264.6 448.1 L1267.0 445.0 L1269.4 441.8 L1271.7 438.7 L1274.1 435.6 L1276.5 432.7 L1278.8 429.7 L1281.2 426.8 L1283.6 423.9 L1286.0 421.1 L1288.3 418.3 L1290.7 415.7 L1293.1 413.3 L1295.5 410.7 L1297.8 408.1 L1300.2 405.0 L1302.6 401.4 L1305.0 397.7 L1307.3 394.3 L1309.7 390.9 L1312.1 387.7 L1314.5 384.7 L1316.8 381.9 L1319.2 379.7 L1321.6 377.4 L1324.0 374.4 L1326.3 370.3 L1328.7 366.3 L1331.1 363.2 L1333.4 360.7 L1335.8 358.3 L1338.2 355.5 L1340.6 352.2 L1342.9 348.6 L1345.3 345.4 L1347.7 342.4 L1350.1 339.6 L1352.4 337.0 L1354.8 334.8 L1357.2 333.0 L1359.6 331.4 L1361.9 330.0 L1364.3 328.5 L1366.7 327.0 L1369.1 325.5 L1371.4 324.0 L1373.8 322.3 L1376.2 320.2 L1378.6 317.4 L1380.9 314.9 L1383.3 313.6 L1385.7 312.9 L1388.1 312.3 L1390.4 311.3 L1392.8 310.0 L1395.2 308.5 L1397.5 306.9 L1399.9 305.1 L1402.3 302.8 L1404.7 300.5 L1407.0 298.6 L1409.4 296.8 L1411.8 295.1 L1414.2 293.5 L1416.5 292.2 L1418.9 291.2 L1421.3 290.7 L1423.7 290.4 L1426.0 290.1 L1428.4 290.0 L1430.8 289.8 L1433.2 289.6 L1435.5 289.3 L1437.9 288.9 L1440.3 288.5 L1442.7 288.0 L1445.0 287.4 L1447.4 286.8 L1449.8 286.2 L1452.1 285.7 L1454.5 285.2 L1456.9 284.8 L1459.3 284.5 L1461.6 284.1 L1464.0 283.7 L1466.4 283.3 L1468.8 282.9 L1471.1 282.4 L1473.5 281.8 L1475.9 280.8 L1478.3 279.4 L1480.6 277.8 L1483.0 276.4 L1485.4 275.2 L1487.8 273.9 L1490.1 272.2 L1492.5 270.2 L1494.9 268.1 L1497.3 266.2 L1499.6 264.6 L1502.0 263.0 L1504.4 261.7 L1506.8 260.6 L1509.1 259.8 L1511.5 259.1 L1513.9 258.4 L1516.2 257.5 L1518.6 256.5 L1521.0 255.4 L1523.4 254.7 L1525.7 254.0 L1528.1 255.9 L1530.5 258.3 L1532.9 259.9 L1535.2 261.2 L1537.6 262.2 L1540.0 262.7 L1542.4 262.7 L1544.7 262.6 L1547.1 262.4 L1549.5 262.2 L1551.9 261.6 L1554.2 260.4 L1556.6 258.8 L1559.0 257.3 L1561.4 256.3 L1563.7 255.3 L1566.1 254.2 L1568.5 253.1 L1568.5 253.1" stroke="#9abffa" stroke-width="1.9"/>
<path d="M6.4 883.5 L8.8 882.0 L11.1 880.6 L13.5 879.2 L15.9 877.8 L18.3 876.3 L20.6 874.9 L23.0 873.4 L25.4 871.9 L27.7 870.5 L30.1 869.0 L32.5 867.5 L34.9 865.9 L37.2 864.2 L39.6 862.4 L42.0 860.2 L44.4 857.7 L46.7 855.0 L49.1 852.3 L51.5 849.7 L53.9 847.2 L56.2 844.6 L58.6 841.9 L61.0 839.9 L63.4 839.1 L65.7 838.7 L68.1 838.0 L70.5 836.5 L72.9 835.9 L75.2 835.9 L77.6 835.9 L80.0 836.3 L82.4 836.7 L84.7 836.2 L87.1 835.8 L89.5 835.5 L91.8 834.9 L94.2 833.8 L96.6 832.3 L99.0 830.5 L101.3 829.0 L103.7 827.5 L106.1 826.1 L108.5 824.7 L110.8 823.3 L113.2 822.0 L115.6 820.6 L118.0 818.7 L120.3 817.1 L122.7 817.6 L125.1 818.1 L127.5 819.1 L129.8 820.2 L132.2 821.7 L134.6 823.2 L137.0 823.9 L139.3 824.1 L141.7 823.7 L144.1 822.7 L146.4 821.4 L148.8 819.5 L151.2 817.4 L153.6 815.7 L155.9 813.9 L158.3 812.2 L160.7 811.1 L163.1 810.5 L165.4 810.3 L167.8 810.0 L170.2 809.3 L172.6 808.2 L174.9 806.9 L177.3 805.6 L179.7 804.3 L182.1 802.9 L184.4 801.3 L186.8 799.6 L189.2 797.4 L191.6 794.9 L193.9 792.5 L196.3 790.5 L198.7 788.9 L201.1 787.4 L203.4 785.9 L205.8 784.3 L208.2 782.4 L210.5 780.4 L212.9 778.2 L215.3 776.1 L217.7 774.0 L220.0 772.0 L222.4 770.1 L224.8 768.1 L227.2 766.1 L229.5 763.9 L231.9 761.2 L234.3 758.4 L236.7 756.0 L239.0 754.5 L241.4 753.6 L243.8 752.8 L246.2 751.8 L248.5 750.7 L250.9 749.5 L253.3 748.1 L255.7 746.5 L258.0 744.8 L260.4 743.0 L262.8 743.7 L265.1 748.8 L267.5 752.8 L269.9 756.0 L272.3 760.2 L274.6 770.6 L277.0 785.8 L279.4 796.8 L281.8 806.5 L284.1 816.4 L286.5 826.2 L288.9 833.8 L291.3 838.3 L293.6 841.9 L296.0 844.9 L298.4 847.4 L300.8 849.6 L303.1 851.6 L305.5 853.5 L307.9 855.1 L310.3 856.6 L312.6 858.1 L315.0 859.8 L317.4 862.0 L319.8 863.8 L322.1 864.3 L324.5 864.3 L326.9 864.3 L329.2 863.3 L331.6 860.2 L334.0 857.4 L336.4 856.2 L338.7 855.1 L341.1 852.8 L343.5 849.7 L345.9 847.3 L348.2 845.4 L350.6 843.5 L353.0 841.6 L355.4 839.5 L357.7 836.8 L360.1 834.0 L362.5 832.0 L364.9 831.2 L367.2 831.1 L369.6 831.1 L372.0 831.0 L374.4 830.5 L376.7 829.1 L379.1 828.0 L381.5 827.6 L383.8 827.3 L386.2 827.1 L388.6 827.1 L391.0 827.4 L393.3 827.9 L395.7 828.4 L398.1 828.1 L400.5 827.6 L402.8 827.1 L405.2 827.7 L407.6 828.4 L410.0 829.2 L412.3 828.4 L414.7 827.1 L417.1 825.8 L419.5 824.9 L421.8 824.2 L424.2 823.3 L426.6 823.5 L429.0 824.0 L431.3 824.5 L433.7 825.0 L436.1 824.6 L438.5 821.4 L440.8 818.4 L443.2 815.2 L445.6 811.9 L447.9 808.4 L450.3 804.4 L452.7 800.0 L455.1 796.0 L457.4 792.9 L459.8 790.2 L462.2 787.0 L464.6 783.0 L466.9 779.0 L469.3 776.0 L471.7 773.3 L474.1 770.0 L476.4 766.1 L478.8 761.8 L481.2 757.2 L483.6 752.3 L485.9 746.7 L488.3 741.2 L490.7 736.7 L493.1 733.3 L495.4 730.4 L497.8 727.5 L500.2 724.2 L502.5 719.7 L504.9 714.7 L507.3 710.6 L509.7 707.0 L512.0 703.6 L514.4 700.2 L516.8 697.1 L519.2 694.2 L521.5 691.2 L523.9 687.7 L526.3 683.2 L528.7 678.0 L531.0 672.7 L533.4 667.8 L535.8 663.0 L538.2 658.3 L540.5 653.6 L542.9 649.0 L545.3 644.3 L547.7 639.6 L550.0 635.1 L552.4 630.8 L554.8 627.1 L557.2 623.6 L559.5 620.4 L561.9 617.4 L564.3 614.6 L566.6 612.0 L569.0 609.8 L571.4 607.7 L573.8 605.7 L576.1 603.4 L578.5 600.7 L580.9 597.8 L583.3 594.7 L585.6 591.6 L588.0 588.3 L590.4 585.2 L592.8 582.1 L595.1 579.3 L597.5 576.7 L599.9 574.2 L602.3 571.7 L604.6 569.0 L607.0 566.2 L609.4 563.4 L611.8 560.4 L614.1 557.3 L616.5 554.0 L618.9 550.5 L621.2 546.8 L623.6 542.8 L626.0 538.2 L628.4 532.9 L630.7 527.8 L633.1 523.5 L635.5 519.9 L637.9 516.0 L640.2 511.1 L642.6 505.2 L645.0 499.8 L647.4 495.8 L649.7 492.1 L652.1 488.8 L654.5 486.0 L656.9 483.9 L659.2 482.4 L661.6 481.2 L664.0 479.9 L666.4 478.0 L668.7 475.3 L671.1 471.9 L673.5 468.2 L675.9 464.3 L678.2 460.0 L680.6 455.2 L683.0 450.6 L685.3 446.5 L687.7 442.9 L690.1 439.4 L692.5 435.3 L694.8 433.6 L697.2 434.0 L699.6 434.4 L702.0 434.7 L704.3 434.9 L706.7 434.9 L709.1 434.9 L711.5 434.9 L713.8 434.9 L716.2 434.5 L718.6 433.3 L721.0 432.0 L723.3 431.3 L725.7 431.0 L728.1 430.6 L730.5 430.5 L732.8 431.2 L735.2 431.8 L737.6 432.6 L739.9 435.4 L742.3 439.3 L744.7 442.6 L747.1 444.1 L749.4 445.0 L751.8 446.1 L754.2 448.4 L756.6 451.9 L758.9 456.0 L761.3 460.6 L763.7 466.3 L766.1 473.1 L768.4 481.1 L770.8 485.8 L773.2 488.5 L775.6 490.6 L777.9 492.3 L780.3 493.9 L782.7 495.4 L785.1 496.7 L787.4 498.0 L789.8 499.4 L792.2 501.0 L794.6 502.6 L796.9 504.3 L799.3 506.2 L801.7 508.4 L804.0 511.0 L806.4 514.8 L808.8 519.8 L811.2 523.6 L813.5 526.8 L815.9 529.6 L818.3 532.0 L820.7 533.9 L823.0 535.4 L825.4 536.9 L827.8 538.8 L830.2 542.1 L832.5 547.5 L834.9 553.2 L837.3 557.7 L839.7 561.9 L842.0 565.8 L844.4 569.3 L846.8 572.2 L849.2 574.5 L851.5 576.5 L853.9 578.7 L856.3 580.7 L858.6 578.7 L861.0 576.7 L863.4 574.7 L865.8 572.7 L868.1 570.6 L870.5 568.2 L872.9 566.2 L875.3 564.9 L877.6 564.2 L880.0 563.4 L882.4 563.4 L884.8 565.2 L887.1 566.6 L889.5 568.0 L891.9 569.6 L894.3 571.7 L896.6 574.8 L899.0 578.4 L901.4 582.1 L903.8 585.8 L906.1 589.8 L908.5 593.8 L910.9 597.6 L913.3 601.0 L915.6 604.5 L918.0 607.7 L920.4 610.1 L922.7 611.4 L925.1 612.1 L927.5 612.7 L929.9 613.3 L932.2 614.0 L934.6 611.8 L937.0 609.6 L939.4 607.6 L941.7 605.2 L944.1 601.9 L946.5 597.7 L948.9 593.6 L951.2 590.4 L953.6 587.6 L956.0 585.5 L958.4 584.4 L960.7 583.6 L963.1 583.0 L965.5 582.5 L967.9 582.1 L970.2 581.8 L972.6 581.1 L975.0 578.3 L977.3 574.2 L979.7 570.0 L982.1 566.3 L984.5 562.4 L986.8 558.6 L989.2 555.0 L991.6 551.7 L994.0 548.5 L996.3 545.5 L998.7 542.5 L1001.1 539.4 L1003.5 536.0 L1005.8 532.6 L1008.2 529.4 L1010.6 526.8 L1013.0 525.3 L1015.3 524.1 L1017.7 523.5 L1020.1 523.6 L1022.5 523.7 L1024.8 523.9 L1027.2 523.5 L1029.6 522.1 L1032.0 519.8 L1034.3 517.3 L1036.7 514.9 L1039.1 512.8 L1041.4 510.5 L1043.8 508.2 L1046.2 506.0 L1048.6 504.1 L1050.9 502.8 L1053.3 502.0 L1055.7 501.4 L1058.1 500.7 L1060.4 499.8 L1062.8 498.3 L1065.2 496.4 L1067.6 494.5 L1069.9 492.9 L1072.3 491.5 L1074.7 490.2 L1077.1 488.9 L1079.4 487.8 L1081.8 486.7 L1084.2 485.7 L1086.6 484.7 L1088.9 483.7 L1091.3 482.8 L1093.7 481.8 L1096.0 480.8 L1098.4 479.5 L1100.8 478.1 L1103.2 476.5 L1105.5 474.7 L1107.9 472.6 L1110.3 469.7 L1112.7 467.9 L1115.0 467.1 L1117.4 466.5 L1119.8 465.7 L1122.2 467.3 L1124.5 469.8 L1126.9 471.6 L1129.3 473.1 L1131.7 474.4 L1134.0 475.6 L1136.4 476.7 L1138.8 477.7 L1141.2 478.7 L1143.5 479.6 L1145.9 480.8 L1148.3 482.5 L1150.7 484.5 L1153.0 486.6 L1155.4 488.4 L1157.8 489.8 L1160.1 491.1 L1162.5 492.4 L1164.9 494.1 L1167.3 496.4 L1169.6 498.8 L1172.0 500.9 L1174.4 502.3 L1176.8 502.9 L1179.1 503.2 L1181.5 502.4 L1183.9 501.5 L1186.3 500.1 L1188.6 498.3 L1191.0 496.4 L1193.4 494.9 L1195.8 493.4 L1198.1 491.7 L1200.5 489.6 L1202.9 487.0 L1205.3 484.2 L1207.6 481.3 L1210.0 478.5 L1212.4 475.4 L1214.7 472.5 L1217.1 470.3 L1219.5 468.8 L1221.9 467.4 L1224.2 465.9 L1226.6 464.4 L1229.0 462.5 L1231.4 460.0 L1233.7 456.3 L1236.1 451.6 L1238.5 446.2 L1240.9 440.5 L1243.2 434.6 L1245.6 429.0 L1248.0 423.5 L1250.4 417.8 L1252.7 412.2 L1255.1 407.2 L1257.5 402.8 L1259.9 398.6 L1262.2 394.4 L1264.6 390.0 L1267.0 385.5 L1269.4 380.8 L1271.7 376.1 L1274.1 371.5 L1276.5 366.9 L1278.8 362.4 L1281.2 357.7 L1283.6 353.1 L1286.0 348.8 L1288.3 345.1 L1290.7 342.1 L1293.1 339.4 L1295.5 336.8 L1297.8 333.8 L1300.2 329.7 L1302.6 324.0 L1305.0 317.9 L1307.3 312.8 L1309.7 308.0 L1312.1 303.5 L1314.5 299.5 L1316.8 296.1 L1319.2 293.6 L1321.6 291.2 L1324.0 287.4 L1326.3 281.8 L1328.7 276.0 L1331.1 271.8 L1333.4 268.2 L1335.8 264.9 L1338.2 261.4 L1340.6 257.3 L1342.9 252.8 L1345.3 248.5 L1347.7 244.9 L1350.1 242.5 L1352.4 241.0 L1354.8 239.9 L1357.2 238.8 L1359.6 237.5 L1361.9 238.7 L1364.3 240.1 L1366.7 241.6 L1369.1 241.9 L1371.4 241.0 L1373.8 240.1 L1376.2 238.6 L1378.6 236.8 L1380.9 234.9 L1383.3 234.9 L1385.7 235.9 L1388.1 236.7 L1390.4 236.6 L1392.8 236.5 L1395.2 236.4 L1397.5 236.2 L1399.9 235.3 L1402.3 233.8 L1404.7 232.3 L1407.0 231.1 L1409.4 230.2 L1411.8 229.4 L1414.2 228.3 L1416.5 228.1 L1418.9 228.9 L1421.3 229.5 L1423.7 230.2 L1426.0 231.3 L1428.4 233.2 L1430.8 235.4 L1433.2 237.6 L1435.5 239.6 L1437.9 241.3 L1440.3 243.0 L1442.7 244.3 L1445.0 244.6 L1447.4 244.5 L1449.8 244.3 L1452.1 244.2 L1454.5 244.3 L1456.9 245.0 L1459.3 246.1 L1461.6 247.3 L1464.0 248.1 L1466.4 248.5 L1468.8 248.8 L1471.1 249.3 L1473.5 248.1 L1475.9 246.8 L1478.3 245.5 L1480.6 244.1 L1483.0 242.7 L1485.4 241.1 L1487.8 239.0 L1490.1 236.5 L1492.5 233.6 L1494.9 229.6 L1497.3 226.0 L1499.6 223.4 L1502.0 221.2 L1504.4 219.6 L1506.8 218.8 L1509.1 218.2 L1511.5 217.8 L1513.9 217.5 L1516.2 217.3 L1518.6 217.2 L1521.0 217.1 L1523.4 217.0 L1525.7 217.0 L1528.1 220.1 L1530.5 226.5 L1532.9 234.8 L1535.2 240.7 L1537.6 244.1 L1540.0 246.5 L1542.4 248.0 L1544.7 249.2 L1547.1 248.5 L1549.5 247.8 L1551.9 246.5 L1554.2 244.5 L1556.6 241.4 L1559.0 238.5 L1561.4 236.9 L1563.7 235.3 L1566.1 233.3 L1568.5 231.1 L1568.5 231.1" stroke="#fad18c" stroke-width="1.9"/>
<path d="M6.1 865.8 L10.9 846.5 L15.6 843.4 L20.4 848.1 L25.1 861.6 L29.8 825.5 L34.6 838.9 L39.3 831.3 L44.1 807.5 L48.8 809.2 L53.6 794.9 L58.3 799.1 L63.1 796.9 L67.8 827.1 L72.6 815.4 L82.1 844.8 L86.8 828.5 L91.6 822.6 L96.3 807.8 L101.1 808.7 L105.8 793.9 L110.6 799.1 L115.3 790.7 L120.1 777.6 L124.8 822.1 L129.6 841.9 L134.3 842.8 L139.1 842.3 L148.5 797.7 L153.3 783.1 L158.0 781.8 L162.8 780.1 L167.5 804.1 L172.3 782.6 L177.0 789.8 L181.8 771.2 L186.5 775.9 L191.3 748.5 L196.0 745.3 L200.8 755.7 L205.5 749.0 L210.3 739.5 L215.0 738.1 L219.8 727.2 L224.5 724.3 L229.3 724.3 L234.0 725.5 L238.8 716.6 L243.5 718.8 L248.3 761.3 L253.0 713.8 L257.8 693.3 L262.5 713.8 L267.2 848.4 L272.0 860.2 L276.7 1029.5 L281.5 1031.0 L286.2 973.5 L291.0 962.6 L295.7 900.5 L305.2 906.0 L314.7 879.5 L319.5 913.9 L324.2 870.2 L329.0 854.8 L333.7 789.6 L338.5 837.1 L343.2 798.5 L348.0 811.9 L352.7 796.8 L357.5 793.8 L362.2 788.1 L367.0 806.1 L371.7 837.1 L376.5 811.9 L381.2 809.9 L385.9 826.2 L390.7 817.5 L395.4 845.5 L400.2 825.4 L404.9 826.2 L409.7 844.7 L419.2 799.3 L423.9 797.7 L428.7 825.4 L433.4 856.5 L438.2 780.9 L442.9 748.1 L447.7 740.5 L452.4 721.2 L457.2 716.2 L461.9 718.7 L466.7 700.2 L471.4 698.2 L476.2 701.1 L480.9 665.5 L485.7 655.4 L490.4 640.3 L495.2 679.7 L499.9 654.5 L504.6 611.7 L509.4 609.2 L514.1 655.9 L518.9 652.0 L523.6 610.0 L528.4 602.5 L533.1 578.1 L537.9 557.1 L542.6 549.6 L547.4 543.7 L552.1 544.8 L556.9 558.8 L561.6 540.8 L566.4 567.2 L571.1 558.0 L575.9 548.7 L580.6 535.3 L585.4 524.0 L590.1 538.6 L594.9 516.0 L599.6 515.1 L604.4 517.3 L609.1 510.1 L613.9 486.1 L618.6 474.4 L623.3 455.9 L628.1 444.1 L632.8 450.0 L637.6 424.0 L642.3 418.9 L647.1 420.6 L651.8 418.9 L656.6 415.6 L661.3 458.4 L666.1 450.0 L670.8 399.6 L675.6 379.5 L680.3 382.5 L685.1 367.4 L689.8 366.4 L694.6 363.5 L699.3 420.6 L704.1 449.2 L708.8 421.8 L713.6 450.0 L718.3 417.3 L723.1 404.7 L727.8 418.9 L732.6 429.0 L737.3 457.6 L742.0 497.1 L746.8 492.0 L751.5 467.2 L756.3 494.5 L765.8 621.0 L770.5 615.1 L775.3 543.8 L780.0 532.0 L784.8 524.4 L789.5 530.3 L794.3 536.2 L799.0 542.9 L803.8 553.8 L808.5 603.4 L813.3 582.4 L818.0 601.7 L822.8 568.1 L827.5 571.5 L832.3 600.9 L837.0 682.3 L841.8 640.0 L846.5 648.4 L851.3 616.0 L856.0 620.2 L860.7 553.8 L865.5 521.6 L870.2 533.7 L875.0 527.8 L879.7 539.6 L884.5 570.6 L889.2 609.3 L894.0 596.2 L898.7 634.5 L903.5 676.1 L908.2 673.9 L913.0 663.0 L917.7 691.1 L922.5 651.3 L927.2 627.7 L932.0 619.3 L936.7 566.4 L941.5 552.2 L951.0 518.9 L955.7 531.1 L960.5 572.3 L965.2 570.6 L970.0 591.1 L974.7 529.4 L979.4 489.9 L984.2 506.4 L988.9 479.0 L993.7 462.7 L998.4 482.9 L1003.2 460.9 L1007.9 492.8 L1012.7 468.6 L1017.4 497.5 L1022.2 534.1 L1026.9 505.9 L1031.7 476.5 L1036.4 469.8 L1041.2 467.3 L1045.9 466.1 L1050.7 475.7 L1055.4 486.2 L1060.2 481.5 L1064.9 457.2 L1069.7 456.3 L1074.4 462.2 L1079.2 471.1 L1083.9 447.6 L1088.7 475.7 L1093.4 445.4 L1098.1 480.7 L1102.9 437.0 L1107.6 446.3 L1112.4 410.5 L1117.1 445.4 L1121.9 460.5 L1126.6 512.6 L1131.4 515.6 L1136.1 493.3 L1140.9 505.6 L1145.6 500.9 L1150.4 520.2 L1155.1 523.5 L1159.9 526.9 L1164.6 514.0 L1169.4 543.7 L1174.1 547.9 L1178.9 508.4 L1183.6 490.8 L1188.4 472.3 L1193.1 458.9 L1197.9 448.8 L1202.6 432.0 L1207.4 412.7 L1212.1 426.1 L1216.8 423.6 L1221.6 437.9 L1226.3 432.0 L1231.1 437.9 L1235.8 370.2 L1240.6 360.9 L1245.3 312.2 L1250.1 301.8 L1254.8 307.2 L1259.6 308.9 L1264.3 295.4 L1269.1 313.1 L1273.8 271.1 L1278.6 261.0 L1283.3 263.0 L1288.1 258.1 L1292.8 298.5 L1297.6 259.3 L1302.3 250.9 L1307.1 212.0 L1316.6 203.9 L1321.3 224.1 L1326.1 188.8 L1330.8 198.0 L1335.5 187.1 L1340.3 189.6 L1345.0 170.3 L1349.8 153.0 L1354.5 217.3 L1359.3 219.0 L1364.0 266.1 L1368.8 258.5 L1373.5 220.7 L1378.3 214.8 L1383.0 198.0 L1387.8 265.7 L1392.5 230.8 L1397.3 233.8 L1402.0 200.2 L1406.8 209.8 L1411.5 202.6 L1416.3 224.1 L1421.0 233.8 L1435.3 294.3 L1440.0 264.4 L1444.8 260.2 L1449.5 244.2 L1454.2 240.9 L1459.0 272.4 L1463.7 264.4 L1473.2 245.9 L1478.0 206.1 L1482.7 227.9 L1487.5 193.0 L1492.2 188.8 L1497.0 150.2 L1501.7 165.3 L1506.5 192.2 L1516.0 220.7 L1520.7 204.7 L1525.5 217.0 L1530.2 327.3 L1535.0 367.8 L1539.7 305.6 L1544.5 261.7 L1549.2 231.6 L1554.0 217.3 L1558.7 177.4 L1563.5 200.5 L1568.2 188.8" stroke="#dcdcdc" stroke-width="1.9"/>
</g>
<line x1="6" y1="189" x2="1638" y2="189" stroke="#e6e6e6" stroke-width="2" stroke-dasharray="2 4"/>
</svg>
<div class="abs" style="left:17px;top:64px;width:288px;height:48px;background:rgba(15,15,15,0.55)"></div>
<div class="abs" style="left:17px;top:112px;width:288px;height:48px;background:rgba(15,15,15,0.55)"></div>
<div class="abs" style="left:17px;top:160px;width:305px;height:48px;background:rgba(15,15,15,0.55)"></div>
<div class="abs" style="left:17px;top:208px;width:305px;height:48px;background:rgba(15,15,15,0.55)"></div>
<div id="legend">
<span class="t" style="left:69.00px;top:22.71px;font-size:32px;color:#dbdbdb;transform:scaleX(0.9418);">AEX · 1W · TVC</span>
<span class="t" style="left:386.50px;top:25.89px;font-size:26px;color:#dbdbdb;transform:scaleX(1.0953);">924.42</span>
<span class="t" style="left:487.23px;top:25.89px;font-size:26px;color:#dbdbdb;transform:scaleX(1.0680);">+7.02</span>
<span class="t" style="left:568.54px;top:25.89px;font-size:26px;color:#dbdbdb;transform:scaleX(1.0596);">(+0.77%)</span>
<span class="t" style="left:23.59px;top:74.29px;font-size:26px;color:#dbdbdb;transform:scaleX(0.9545);">EMA</span>
<span class="t" style="left:86.31px;top:74.29px;font-size:26px;color:#8c8c8c;transform:scaleX(0.9869);">21</span>
<span class="t" style="left:125.85px;top:74.29px;font-size:26px;color:#8c8c8c;transform:scaleX(1.0534);">close</span>
<span class="t" style="left:205.60px;top:74.29px;font-size:26px;color:#f7cd8b;letter-spacing:0.205px;transform:scaleX(1.1000);">899.29</span>
<span class="t" style="left:23.59px;top:122.19px;font-size:26px;color:#dbdbdb;transform:scaleX(0.9545);">EMA</span>
<span class="t" style="left:86.24px;top:122.19px;font-size:26px;color:#8c8c8c;transform:scaleX(1.0597);">55</span>
<span class="t" style="left:125.85px;top:122.19px;font-size:26px;color:#8c8c8c;transform:scaleX(1.0534);">close</span>
<span class="t" style="left:205.60px;top:122.19px;font-size:26px;color:#94b8f5;letter-spacing:0.205px;transform:scaleX(1.1000);">886.58</span>
<span class="t" style="left:23.59px;top:169.89px;font-size:26px;color:#dbdbdb;transform:scaleX(0.9545);">EMA</span>
<span class="t" style="left:86.22px;top:169.89px;font-size:26px;color:#8c8c8c;transform:scaleX(1.0759);">100</span>
<span class="t" style="left:142.05px;top:169.89px;font-size:26px;color:#8c8c8c;transform:scaleX(1.0483);">close</span>
<span class="t" style="left:221.90px;top:169.89px;font-size:26px;color:#7fc8b8;letter-spacing:0.060px;transform:scaleX(1.1000);">857.51</span>
<span class="t" style="left:23.59px;top:217.89px;font-size:26px;color:#dbdbdb;transform:scaleX(0.9545);">EMA</span>
<span class="t" style="left:86.22px;top:217.89px;font-size:26px;color:#8c8c8c;transform:scaleX(1.0759);">200</span>
<span class="t" style="left:142.05px;top:217.89px;font-size:26px;color:#8c8c8c;transform:scaleX(1.0483);">close</span>
<span class="t" style="left:221.90px;top:217.89px;font-size:26px;color:#ee9ea3;letter-spacing:0.060px;transform:scaleX(1.1000);">797.70</span>
<span class="t" style="left:1655.70px;top:115.98px;font-size:24px;color:#b1b1b1;letter-spacing:0.243px;transform:scaleX(1.1000);">960.00</span>
<span class="t" style="left:1655.70px;top:184.38px;font-size:24px;color:#b1b1b1;letter-spacing:0.243px;transform:scaleX(1.1000);">920.00</span>
<span class="t" style="left:1655.70px;top:252.78px;font-size:24px;color:#b1b1b1;letter-spacing:0.243px;transform:scaleX(1.1000);">880.00</span>
<span class="t" style="left:1655.70px;top:321.18px;font-size:24px;color:#b1b1b1;letter-spacing:0.243px;transform:scaleX(1.1000);">840.00</span>
<span class="t" style="left:1655.70px;top:389.58px;font-size:24px;color:#b1b1b1;letter-spacing:0.243px;transform:scaleX(1.1000);">800.00</span>
<span class="t" style="left:1655.70px;top:457.98px;font-size:24px;color:#b1b1b1;letter-spacing:0.243px;transform:scaleX(1.1000);">760.00</span>
<span class="t" style="left:1655.70px;top:526.38px;font-size:24px;color:#b1b1b1;letter-spacing:0.243px;transform:scaleX(1.1000);">720.00</span>
<span class="t" style="left:1655.70px;top:594.78px;font-size:24px;color:#b1b1b1;letter-spacing:0.243px;transform:scaleX(1.1000);">680.00</span>
<span class="t" style="left:1655.70px;top:663.18px;font-size:24px;color:#b1b1b1;letter-spacing:0.243px;transform:scaleX(1.1000);">640.00</span>
<span class="t" style="left:1655.70px;top:731.58px;font-size:24px;color:#b1b1b1;letter-spacing:0.243px;transform:scaleX(1.1000);">600.00</span>
<span class="t" style="left:1656.80px;top:799.98px;font-size:24px;color:#b1b1b1;letter-spacing:0.043px;transform:scaleX(1.1000);">560.00</span>
<span class="t" style="left:1656.80px;top:868.38px;font-size:24px;color:#b1b1b1;letter-spacing:0.043px;transform:scaleX(1.1000);">520.00</span>
<span class="t" style="left:1656.80px;top:936.78px;font-size:24px;color:#b1b1b1;letter-spacing:0.043px;transform:scaleX(1.1000);">480.00</span>
<span class="t" style="left:1656.80px;top:1005.18px;font-size:24px;color:#b1b1b1;letter-spacing:0.043px;transform:scaleX(1.1000);">440.00</span>
<span class="t" style="left:1656.80px;top:1073.58px;font-size:24px;color:#b1b1b1;letter-spacing:0.043px;transform:scaleX(1.1000);">400.00</span>
<span class="t" style="left:89.90px;top:1143.58px;font-size:24px;color:#b1b1b1;transform:scaleX(1.0529);">Jul</span>
<span class="t" style="left:202.40px;top:1143.58px;font-size:24px;color:#c4c4c4;letter-spacing:1.228px;transform:scaleX(1.1000);font-weight:700;">2020</span>
<span class="t" style="left:340.90px;top:1143.58px;font-size:24px;color:#b1b1b1;transform:scaleX(1.0529);">Jul</span>
<span class="t" style="left:449.40px;top:1143.58px;font-size:24px;color:#c4c4c4;letter-spacing:1.228px;transform:scaleX(1.1000);font-weight:700;">2021</span>
<span class="t" style="left:587.90px;top:1143.58px;font-size:24px;color:#b1b1b1;transform:scaleX(1.0529);">Jul</span>
<span class="t" style="left:696.40px;top:1143.58px;font-size:24px;color:#c4c4c4;letter-spacing:1.228px;transform:scaleX(1.1000);font-weight:700;">2022</span>
<span class="t" style="left:834.90px;top:1143.58px;font-size:24px;color:#b1b1b1;transform:scaleX(1.0529);">Jul</span>
<span class="t" style="left:943.40px;top:1143.58px;font-size:24px;color:#c4c4c4;letter-spacing:1.228px;transform:scaleX(1.1000);font-weight:700;">2023</span>
<span class="t" style="left:1081.90px;top:1143.58px;font-size:24px;color:#b1b1b1;transform:scaleX(1.0529);">Jul</span>
<span class="t" style="left:1189.40px;top:1143.58px;font-size:24px;color:#c4c4c4;letter-spacing:0.895px;transform:scaleX(1.1000);font-weight:700;">2024</span>
<span class="t" style="left:1328.90px;top:1143.58px;font-size:24px;color:#b1b1b1;transform:scaleX(1.0529);">Jul</span>
<span class="t" style="left:1441.40px;top:1143.58px;font-size:24px;color:#c4c4c4;letter-spacing:1.228px;transform:scaleX(1.1000);font-weight:700;">2025</span>
<span class="t" style="left:1580.90px;top:1143.58px;font-size:24px;color:#b1b1b1;transform:scaleX(1.0529);">Jul</span>
<span class="t" style="left:34.44px;top:1209.60px;font-size:28px;color:#dbdbdb;transform:scaleX(1.0316);">1D</span>
<span class="t" style="left:95.76px;top:1209.60px;font-size:28px;color:#dbdbdb;transform:scaleX(1.0395);">5D</span>
<span class="t" style="left:157.39px;top:1209.60px;font-size:28px;color:#dbdbdb;transform:scaleX(1.0570);">1M</span>
<span class="t" style="left:222.96px;top:1209.60px;font-size:28px;color:#dbdbdb;transform:scaleX(1.0390);">3M</span>
<span class="t" style="left:287.85px;top:1209.60px;font-size:28px;color:#dbdbdb;transform:scaleX(1.0527);">6M</span>
<span class="t" style="left:354.90px;top:1209.60px;font-size:28px;color:#dbdbdb;transform:scaleX(0.9639);">YTD</span>
<span class="t" style="left:434.20px;top:1209.60px;font-size:28px;color:#dbdbdb;transform:scaleX(0.9517);">1Y</span>
<span class="t" style="left:492.73px;top:1209.60px;font-size:28px;color:#dbdbdb;transform:scaleX(0.9740);">5Y</span>
<span class="t" style="left:552.70px;top:1209.60px;font-size:28px;color:#dbdbdb;transform:scaleX(0.9901);">All</span>
<span class="t" style="left:1542.30px;top:1208.90px;font-size:28px;color:#dbdbdb;transform:scaleX(1.0994);">07:46:30</span>
<span class="t" style="left:1668.86px;top:1208.90px;font-size:28px;color:#dbdbdb;transform:scaleX(1.0208);">UTC+2</span>
<span class="t" style="left:1654.49px;top:28.68px;font-size:24px;color:#dbdbdb;transform:scaleX(0.9120);">EUR</span>
</div>
<div class="box" style="top:172px;height:62px;background:#dbdbdb"></div>
<div class="box" style="top:234.6px;height:33.2px;background:#f7cd8b"></div>
<div class="box" style="top:268.4px;height:33.2px;background:#94b8f5"></div>
<div class="box" style="top:302.4px;height:33.4px;background:#87c9bb"></div>
<div class="box" style="top:388px;height:34px;background:#eea2a7"></div>
<span class="t" style="left:1655.70px;top:176.88px;font-size:24px;color:#0f0f0f;letter-spacing:0.206px;transform:scaleX(1.1000);">924.42</span>
<span class="t" style="left:1657.10px;top:204.98px;font-size:24px;color:#444444;letter-spacing:0.217px;transform:scaleX(1.1000);">1d 11h</span>
<span class="t" style="left:1655.70px;top:238.88px;font-size:24px;color:#0f0f0f;letter-spacing:0.206px;transform:scaleX(1.1000);">899.29</span>
<span class="t" style="left:1655.70px;top:273.18px;font-size:24px;color:#0f0f0f;letter-spacing:0.206px;transform:scaleX(1.1000);">886.58</span>
<span class="t" style="left:1655.70px;top:306.98px;font-size:24px;color:#0f0f0f;letter-spacing:0.206px;transform:scaleX(1.1000);">857.51</span>
<span class="t" style="left:1655.70px;top:393.08px;font-size:24px;color:#0f0f0f;letter-spacing:0.206px;transform:scaleX(1.1000);">797.70</span>
<!-- flag -->
<svg width="1786" height="1262" viewBox="0 0 1786 1262" style="pointer-events:none">
<defs><clipPath id="fl"><circle cx="42" cy="38" r="18"/></clipPath></defs>
<g clip-path="url(#fl)"><rect x="24" y="20" width="36" height="12.1" fill="#e05c57"/><rect x="24" y="32.1" width="36" height="12" fill="#f8f9fd"/><rect x="24" y="44.1" width="36" height="12" fill="#3164bc"/></g>
<!-- minus button -->
<circle cx="336" cy="38" r="18" fill="#2a2a2a"/>
<rect x="326" y="34" width="20" height="8" rx="4" fill="#9b9b9b"/>
<!-- EUR box -->
<rect x="1646.5" y="14.5" width="127" height="51" rx="7" fill="none" stroke="#4c4c4c" stroke-width="1.6"/>
<path d="M1754.2 38.5 L1759 42.6 L1763.8 38.5" fill="none" stroke="#e0e0e0" stroke-width="2.2" stroke-linecap="round" stroke-linejoin="round"/>
<!-- collapse button -->
<rect x="19" y="261" width="56" height="40" rx="5" fill="#0f0f0f" stroke="#464646" stroke-width="1.6"/>
<path d="M40.2 284.6 L47 278 L53.8 284.6" fill="none" stroke="#e0e0e0" stroke-width="2.3" stroke-linecap="round" stroke-linejoin="round"/>
<!-- TV logo -->
<g stroke="#0f0f0f" stroke-width="9" stroke-linejoin="round" paint-order="stroke" fill="#dbdbdb">
<path d="M30 1068 H54 V1098 H42 V1080 H30 Z"/>
<circle cx="64" cy="1074" r="6"/>
<path d="M76.5 1068 H90.1 L78.2 1098 H64.1 Z"/>
</g>
<!-- EU icon -->
<circle cx="1573" cy="1100" r="20.6" fill="none" stroke="#ea4f58" stroke-width="3.2"/>
<circle cx="1570.5" cy="1100" r="23.4" fill="#0f0f0f"/>
<circle cx="1570.5" cy="1100" r="20.6" fill="none" stroke="#ea4f58" stroke-width="3.2"/>
<circle cx="1568" cy="1100" r="23.4" fill="#0f0f0f"/>
<circle cx="1568" cy="1100" r="20.6" fill="none" stroke="#ea4f58" stroke-width="3.2"/>
<circle cx="1568" cy="1100" r="16.2" fill="#3063bd"/>
<g fill="#f5d442"><path d="M0 -2.9 L0.85 -0.9 L2.9 -0.9 L1.3 0.4 L1.8 2.5 L0 1.3 L-1.8 2.5 L-1.3 0.4 L-2.9 -0.9 L-0.85 -0.9 Z" transform="rotate(0 1568 1100) translate(1568 1090.5)"/><path d="M0 -2.9 L0.85 -0.9 L2.9 -0.9 L1.3 0.4 L1.8 2.5 L0 1.3 L-1.8 2.5 L-1.3 0.4 L-2.9 -0.9 L-0.85 -0.9 Z" transform="rotate(45 1568 1100) translate(1568 1090.5)"/><path d="M0 -2.9 L0.85 -0.9 L2.9 -0.9 L1.3 0.4 L1.8 2.5 L0 1.3 L-1.8 2.5 L-1.3 0.4 L-2.9 -0.9 L-0.85 -0.9 Z" transform="rotate(90 1568 1100) translate(1568 1090.5)"/><path d="M0 -2.9 L0.85 -0.9 L2.9 -0.9 L1.3 0.4 L1.8 2.5 L0 1.3 L-1.8 2.5 L-1.3 0.4 L-2.9 -0.9 L-0.85 -0.9 Z" transform="rotate(135 1568 1100) translate(1568 1090.5)"/><path d="M0 -2.9 L0.85 -0.9 L2.9 -0.9 L1.3 0.4 L1.8 2.5 L0 1.3 L-1.8 2.5 L-1.3 0.4 L-2.9 -0.9 L-0.85 -0.9 Z" transform="rotate(180 1568 1100) translate(1568 1090.5)"/><path d="M0 -2.9 L0.85 -0.9 L2.9 -0.9 L1.3 0.4 L1.8 2.5 L0 1.3 L-1.8 2.5 L-1.3 0.4 L-2.9 -0.9 L-0.85 -0.9 Z" transform="rotate(225 1568 1100) translate(1568 1090.5)"/><path d="M0 -2.9 L0.85 -0.9 L2.9 -0.9 L1.3 0.4 L1.8 2.5 L0 1.3 L-1.8 2.5 L-1.3 0.4 L-2.9 -0.9 L-0.85 -0.9 Z" transform="rotate(270 1568 1100) translate(1568 1090.5)"/><path d="M0 -2.9 L0.85 -0.9 L2.9 -0.9 L1.3 0.4 L1.8 2.5 L0 1.3 L-1.8 2.5 L-1.3 0.4 L-2.9 -0.9 L-0.85 -0.9 Z" transform="rotate(315 1568 1100) translate(1568 1090.5)"/></g>
<!-- settings hexagon -->
<path d="M1697 1155 L1704 1142.8 H1718.4 L1725.4 1155 L1718.4 1167.2 H1704 Z" fill="none" stroke="#dbdbdb" stroke-width="2" stroke-linejoin="round"/>
<circle cx="1711.2" cy="1155" r="4.3" fill="none" stroke="#dbdbdb" stroke-width="2"/>
<!-- separators -->
<rect x="1781" y="1184" width="2" height="78" fill="#2d2d2d"/>
<rect x="6" y="1182.2" width="1775.5" height="1.8" fill="#333333"/>
<rect x="604" y="1200" width="1.8" height="44" fill="#4a4a4a"/>
<!-- calendar icon -->
<g fill="none" stroke="#dbdbdb" stroke-width="2" stroke-linecap="butt" stroke-linejoin="round">
<path d="M635.5 1220.4 V1211.5 a5 5 0 0 1 5 -5 H663.8 a5 5 0 0 1 5 5 V1232 a5 5 0 0 1 -5 5 H652"/>
<path d="M635.5 1216.9 H668.8"/>
<path d="M644.9 1201.8 V1210 M659 1201.8 V1210"/>
<path d="M632 1230.8 H646.5 M640 1223.8 L647 1230.8 L640 1237.8"/>
</g>
</svg>

</div></div></body></html>
